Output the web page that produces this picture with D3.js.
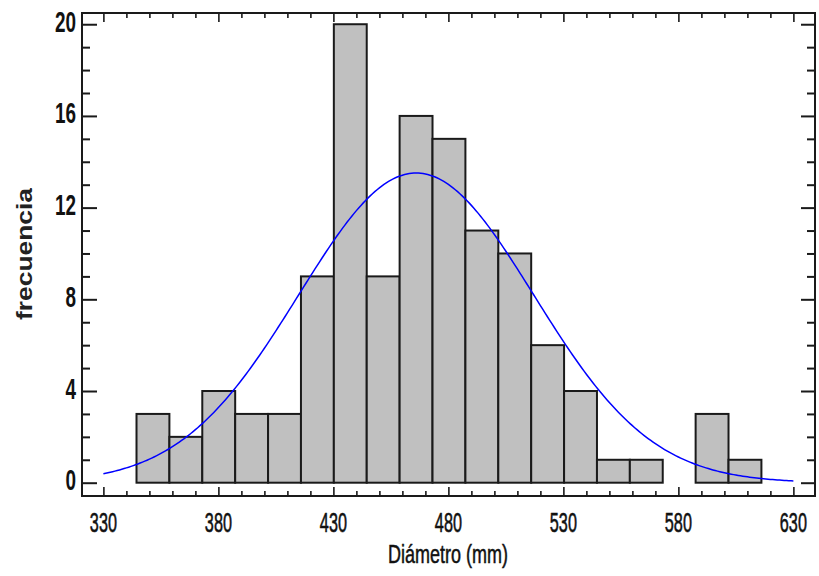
<!DOCTYPE html>
<html>
<head>
<meta charset="utf-8">
<script src="https://cdn.jsdelivr.net/npm/d3@7"></script>
<style>
  html, body { margin: 0; padding: 0; background: #fff; }
  svg { display: block; font-family: 'Liberation Sans', Arial, sans-serif; }
</style>
</head>
<body>
<div id="chart"></div>
<script>
// histogram bins (lower/upper edges) and counts
const binEdges = [344.4, 358.7, 373.0, 387.3, 401.6, 415.9, 430.2, 444.5, 458.8, 473.1,
                  487.4, 501.7, 516.0, 530.3, 544.6, 558.9, 573.2, 587.5, 601.8, 616.1];
const binCounts = [3, 2, 4, 3, 3, 9, 20, 9, 16, 15, 11, 10, 6, 4, 1, 1, 0, 3, 1];

// fitted normal curve parameters
const fitMean = 466;
const fitSd = 51.1;
const curveRange = [330, 630];

const xTicks = [330, 380, 430, 480, 530, 580, 630];
const yTicks = [0, 4, 8, 12, 16, 20];
const xTitle = 'Diámetro (mm)';
const yTitle = 'frecuencia';

const width = 819, height = 576;
const frame = { left: 82, right: 815, top: 13, bottom: 496 };

const svg = d3.select('#chart')
  .append('svg')
  .attr('width', width)
  .attr('height', height);

const x = d3.scaleLinear().domain([320.7, 639.4]).range([frame.left, frame.right]);
const y = d3.scaleLinear().domain([-0.58, 20.49]).range([frame.bottom, frame.top]);

// bars
const bins = binCounts.map((c, i) => ({ x0: binEdges[i], x1: binEdges[i + 1], count: c }));

svg.append('g')
  .attr('class', 'bars')
  .selectAll('rect')
  .data(bins.filter(d => d.count > 0))
  .join('rect')
  .attr('x', d => x(d.x0))
  .attr('y', d => y(d.count))
  .attr('width', d => x(d.x1) - x(d.x0))
  .attr('height', d => y(0) - y(d.count))
  .attr('fill', '#c0c0c0')
  .attr('stroke', '#1a1a1a')
  .attr('stroke-width', 2);

// fitted normal curve
const total = d3.sum(binCounts);
const bw = (binEdges[binEdges.length - 1] - binEdges[0]) / binCounts.length;
const density = v => total * bw / (fitSd * Math.sqrt(2 * Math.PI)) *
  Math.exp(-((v - fitMean) ** 2) / (2 * fitSd * fitSd));
const curvePts = d3.range(curveRange[0], curveRange[1] + 0.5, 1).map(v => [v, density(v)]);

svg.append('path')
  .datum(curvePts)
  .attr('fill', 'none')
  .attr('stroke', '#0000ff')
  .attr('stroke-width', 1.5)
  .attr('d', d3.line().x(d => x(d[0])).y(d => y(d[1])));

// axes: ticks drawn inward on all four sides
const axisColor = '#1a1a1a';
const xMinor = d3.range(330, 631, 10);
const yMinor = d3.range(0, 21, 1);

const axisG = svg.append('g').attr('class', 'axes');

// bottom
axisG.append('g')
  .attr('transform', `translate(0,${frame.bottom})`)
  .call(d3.axisTop(x).tickValues(xMinor).tickSize(5).tickFormat(''))
  .call(g => g.select('.domain').remove())
  .call(g => g.selectAll('.tick line')
    .attr('y2', d => xTicks.includes(d) ? -9 : -5)
    .attr('stroke', axisColor).attr('stroke-width', 1.6));

// top
axisG.append('g')
  .attr('transform', `translate(0,${frame.top})`)
  .call(d3.axisBottom(x).tickValues(xMinor).tickSize(5).tickFormat(''))
  .call(g => g.select('.domain').remove())
  .call(g => g.selectAll('.tick line')
    .attr('y2', d => xTicks.includes(d) ? 9 : 5)
    .attr('stroke', axisColor).attr('stroke-width', 1.6));

// left
axisG.append('g')
  .attr('transform', `translate(${frame.left},0)`)
  .call(d3.axisRight(y).tickValues(yMinor).tickSize(8).tickFormat(''))
  .call(g => g.select('.domain').remove())
  .call(g => g.selectAll('.tick line')
    .attr('x2', d => yTicks.includes(d) ? 15 : 8)
    .attr('stroke', axisColor).attr('stroke-width', 2));

// right
axisG.append('g')
  .attr('transform', `translate(${frame.right},0)`)
  .call(d3.axisLeft(y).tickValues(yMinor).tickSize(8).tickFormat(''))
  .call(g => g.select('.domain').remove())
  .call(g => g.selectAll('.tick line')
    .attr('x2', d => yTicks.includes(d) ? -14 : -8)
    .attr('stroke', axisColor).attr('stroke-width', 2));

// frame
axisG.append('rect')
  .attr('x', frame.left)
  .attr('y', frame.top)
  .attr('width', frame.right - frame.left)
  .attr('height', frame.bottom - frame.top)
  .attr('fill', 'none')
  .attr('stroke', axisColor)
  .attr('stroke-width', 2);

// tick labels
svg.append('g')
  .selectAll('text')
  .data(xTicks)
  .join('text')
  .attr('transform', d => `translate(${x(d)},531.5) scale(0.58,1)`)
  .attr('text-anchor', 'middle')
  .style('font-size', '28px')
  .style('fill', '#111')
  .style('stroke', '#111')
  .style('stroke-width', 0.6)
  .text(d => d);

svg.append('g')
  .selectAll('text')
  .data(yTicks)
  .join('text')
  .attr('transform', d => `translate(76,${y(d) + 7.5}) scale(0.63,1)`)
  .attr('text-anchor', 'end')
  .style('font-size', '30px')
  .style('font-weight', 'bold')
  .style('fill', '#111')
  .text(d => d);

// axis titles
svg.append('text')
  .attr('x', 448)
  .attr('y', 563)
  .attr('text-anchor', 'middle')
  .attr('textLength', 120)
  .attr('lengthAdjust', 'spacingAndGlyphs')
  .style('font-size', '25px')
  .style('fill', '#111')
  .style('stroke', '#111')
  .style('stroke-width', 0.5)
  .text(xTitle);

svg.append('text')
  .attr('transform', 'translate(31.5,254) rotate(-90)')
  .attr('text-anchor', 'middle')
  .attr('textLength', 132)
  .attr('lengthAdjust', 'spacingAndGlyphs')
  .style('font-size', '22px')
  .style('font-weight', 'bold')
  .style('fill', '#222')
  .text(yTitle);
</script>
</body>
</html>
